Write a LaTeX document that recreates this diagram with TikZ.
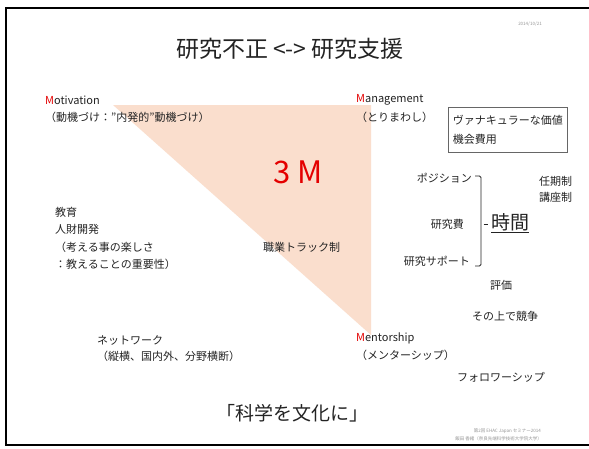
\documentclass[tikz,border=0pt]{standalone}
\usepackage{fontspec}
\setmainfont{Noto Sans CJK JP}
\definecolor{peach}{RGB}{250,222,205}
\definecolor{mred}{RGB}{228,0,0}
\definecolor{txtc}{RGB}{35,35,35}
\definecolor{tiny}{RGB}{150,150,150}
\begin{document}
\begin{tikzpicture}[x=1pt,y=-1pt,
  lbl/.style={inner sep=0pt, text=txtc, font=\fontsize{11}{13}\selectfont},
  lblw/.style={lbl, anchor=west},
  lble/.style={lbl, anchor=east},
  tinytext/.style={inner sep=0pt, text=tiny, font=\fontsize{4.5}{5}\selectfont}]
\useasboundingbox (0,0) rectangle (589,448);
\fill[white] (0,0) rectangle (589,448);
% frame
\draw[line width=2pt, black] (589,8) -- (6,8) -- (6,445) -- (589,445);
% triangle
\fill[peach] (113,105) -- (371,105) -- (371,335) -- cycle;
% title
\node[inner sep=0pt, text=txtc, font=\fontsize{23}{26}\selectfont] (title) at (290,49) {研究不正 <-> 研究支援};
\node[tinytext] (date) at (530,24) {2014/10/21};
% corners
\node[lblw] (mot1) at (45,100) {\textcolor{mred}{M}otivation};
\node[lblw] (mot2) at (45,117) {（動機づけ：”内発的”動機づけ）};
\node[lblw] (man1) at (356,100) {\textcolor{mred}{M}anagement};
\node[lblw] (man2) at (356,117) {（とりまわし）};
\node[lblw] (men1) at (356,338) {\textcolor{mred}{M}entorship};
\node[lblw] (men2) at (356,355) {（メンターシップ）};
% box
\node[draw=black!60, line width=0.6pt, inner xsep=3pt, inner ysep=4pt, anchor=north west,
      text=txtc, font=\fontsize{11}{19}\selectfont, align=left, minimum width=119pt, minimum height=45pt] (vbox) at (448,107)
  {ヴァナキュラーな価値\\機会費用};
% 3M
\node[inner sep=0pt, text=mred, font=\fontsize{31}{34}\selectfont] (threem) at (298,172) {3 M};
\node[lblw] (track) at (263,247) {職業トラック制};
% left block
\node[lblw] (edu1) at (55,212) {教育};
\node[lblw] (edu2) at (55,229) {人財開発};
\node[lblw] (edu3) at (55,247) {（考える事の楽しさ};
\node[lblw] (edu4) at (55,264) {：教えることの重要性）};
% right block
\node[lble] (pos) at (472,178) {ポジション};
\node[lble] (fund) at (464,224) {研究費};
\node[lble] (supp) at (470,261) {研究サポート};
\draw[line width=0.8pt, txtc, rounded corners=1.5pt] (475,176) -- (481,176) -- (481,266) -- (475,266);
\draw[line width=0.8pt, txtc] (483.5,224) -- (487.5,224);
\node[inner sep=0pt, anchor=west, text=txtc, font=\fontsize{19}{22}\selectfont] (jikan) at (491,222) {時間};
\draw[line width=1pt, txtc] ([yshift=-1.5pt]jikan.south west) -- ([yshift=-1.5pt]jikan.south east);
\node[lblw] (eval) at (490,285) {評価};
\node[lblw] (ninki) at (539,181) {任期制};
\node[lblw] (kouza) at (539,197) {講座制};
\node[lblw] (kyoso) at (472,316) {その上で競争};
\node[lblw] (follow) at (457,377) {フォロワーシップ};
% network
\node[lblw] (net1) at (97,340) {ネットワーク};
\node[lblw] (net2) at (97,356) {（縦横、国内外、分野横断）};
% bottom
\node[inner sep=0pt, text=txtc, font=\fontsize{19}{22}\selectfont] (culture) at (292,413) {「科学を文化に」};
\node[tinytext, anchor=east] (foot1) at (541,431) {第2回 EHAC Japan セミナー2014};
\node[tinytext, anchor=east] (foot2) at (542,439) {飯田 香緒（奈良先端科学技術大学院大学）};
\end{tikzpicture}
\end{document}
